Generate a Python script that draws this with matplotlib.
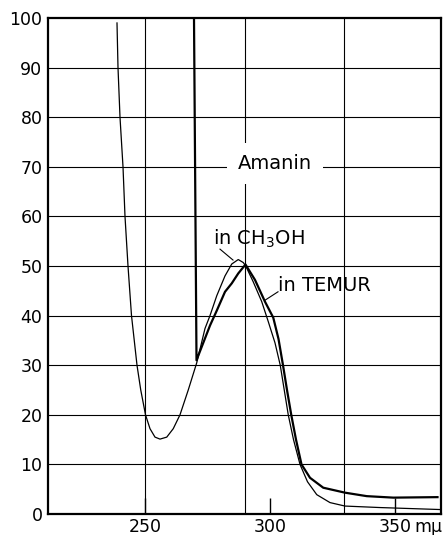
import matplotlib
matplotlib.use("Agg")
import matplotlib.pyplot as plt

# Data (wavelength in mμ, ordinate values)
meoh_x = [238.8, 239.2, 240.0, 241.2, 242.0, 243.2, 244.6, 245.7, 246.8, 248.3,
          250.2, 252.0, 254.0, 256.0, 258.7, 261.3, 264.0, 267.3, 270.7, 274.0,
          276.0, 278.7, 282.0, 284.7, 287.3, 289.3, 290.3, 293.3, 296.7, 299.3,
          302.0, 304.1, 305.7, 307.3, 309.4, 312.0, 315.0, 318.7, 324.0, 330.0,
          344.0, 368.0]
meoh_y = [99.0, 90.0, 80.0, 70.0, 60.0, 50.0, 40.0, 35.0, 30.0, 25.0,
          20.0, 17.2, 15.5, 15.1, 15.5, 17.2, 20.0, 25.0, 30.5, 37.4,
          40.0, 44.0, 48.0, 50.4, 51.3, 50.7, 50.0, 46.8, 42.8, 38.8,
          34.5, 30.0, 25.0, 20.0, 15.0, 10.0, 6.5, 3.9, 2.3, 1.6,
          1.3, 0.9]

temur_x = [269.6, 270.6, 276.0, 278.7, 282.0, 284.7, 287.3, 290.2, 294.0, 298.0,
           301.3, 303.4, 305.2, 306.8, 308.5, 310.4, 312.6, 316.0, 321.3, 330.0,
           338.7, 349.3, 367.0]
temur_y = [100.0, 31.0, 38.0, 41.0, 44.8, 46.5, 48.5, 50.3, 47.2, 42.8,
           39.6, 35.3, 30.0, 25.0, 20.0, 15.0, 10.0, 7.3, 5.3, 4.3,
           3.6, 3.3, 3.4]

x_ticks = [250, 300, 350]
x_tick_labels = ["250", "300", "350"]
y_ticks = [0, 10, 20, 30, 40, 50, 60, 70, 80, 90, 100]
v_grid = [250, 290, 329.5]

plt.rcParams['font.family'] = ['DejaVu Sans']

fig = plt.figure(figsize=(4.47, 5.35), dpi=100)
ax = fig.add_axes([48 / 447, 21 / 535, 393 / 447, 496 / 535])
ax.set_xlim(211.2, 368.4)
ax.set_ylim(0, 100)

for v in v_grid:
    ax.axvline(v, color='black', lw=0.8, zorder=1)
for h in y_ticks[1:-1]:
    ax.axhline(h, color='black', lw=0.8, zorder=1)

ax.plot(meoh_x, meoh_y, color='black', lw=0.9, zorder=3)
ax.plot(temur_x, temur_y, color='black', lw=1.6, zorder=3)

for s in ax.spines.values():
    s.set_linewidth(1.6)
    s.set_color('black')

ax.set_xticks(x_ticks)
ax.set_xticklabels(x_tick_labels)
ax.set_yticks(y_ticks)
ax.tick_params(axis='x', direction='in', length=11.5, width=1.0, pad=3,
               labelsize=12.5)
ax.tick_params(axis='y', length=0, pad=4, labelsize=12.5)

ax.annotate('mμ', xy=(357.8, 0), xycoords=('data', 'axes fraction'),
            xytext=(0, -3), textcoords='offset points', ha='left', va='top',
            fontsize=12.5, annotation_clip=False)

ax.text(302, 70.7, 'Amanin', ha='center', va='center', fontsize=14, zorder=4,
        bbox=dict(boxstyle='square,pad=0.55', fc='white', ec='none'))

ax.text(277.2, 55.5, 'in CH$_3$OH', ha='left', va='center', fontsize=14, zorder=4)
ax.plot([280.0, 285.2], [53.4, 51.2], color='black', lw=0.8, zorder=3)

ax.text(303.2, 46.1, 'in TEMUR', ha='left', va='center', fontsize=14, zorder=4)
ax.plot([303.2, 298.0], [44.8, 43.1], color='black', lw=0.8, zorder=3)

fig.savefig('out.png', dpi=100)
